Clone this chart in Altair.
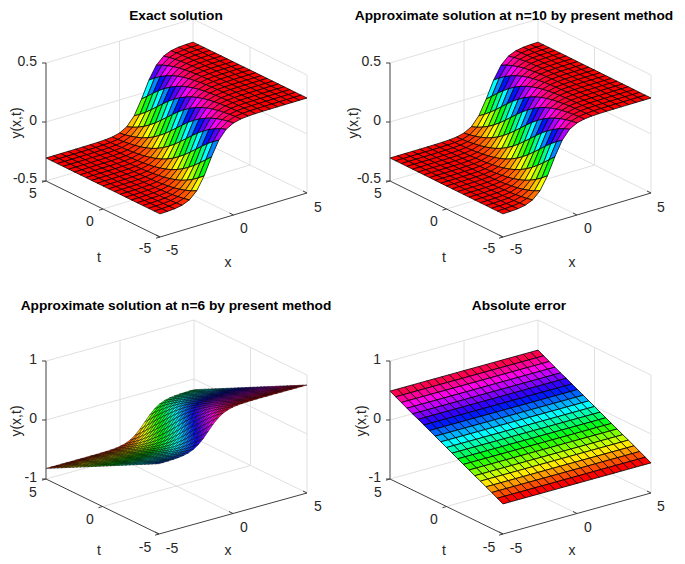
import altair as alt
import pandas as pd

alt.data_transformers.disable_max_rows()

PROFILE_EXACT = [0, .048, .094, .135, .171, .201, .226, .245, .260, .272, .280, .287, .292, .295, .298, .300,
                 .301, .302, .303, .3035, .304, .3042, .3044, .3045, .3046, .3047, .3048, .3048, .3049, .3049,
                 .3049, .305, .305, .305, .305, .305, .305, .305, .305, .305, .305]
PROFILE_N6 = [0, .034, .067, .098, .128, .155, .179, .201, .220, .237, .251, .263, .273, .281, .288, .294,
              .299, .303, .306, .309, .311, .3125, .314, .315, .316, .3167, .3173, .3179, .3183, .3186, .3189,
              .3191, .3193, .3194, .3195, .3196, .3197, .3197, .3198, .3198, .3198, .3199, .3199, .3199, .3199,
              .32, .32, .32, .32, .32, .32, .32, .32, .32, .32, .32, .32, .32, .32, .32, .32]
# Tilt of panel 3 along t, t = -5 ... 5
TILT_N6 = [.51, .477, .443, .409, .376, .342, .308, .275, .241, .207, .173, .140, .106, .072, .038, .005,
           -.029, -.063, -.096, -.130, -.164, -.197, -.231, -.265, -.298, -.332, -.366, -.399, -.433, -.467, -.50]
# Panel 4 values, t = -5 ... 5 (no visible change along x)
ERROR_BY_T = [-.49, -.44, -.39, -.34, -.29, -.245, -.195, -.147, -.098, -.049, 0,
              .049, .098, .147, .195, .245, .29, .34, .39, .44, .49]

TITLES = ["Exact solution", "Approximate solution at n=10 by present method",
          "Approximate solution at n=6 by present method", "Absolute error"]
Z_RANGE = [(-.5, .5, ["-0.5", "0", "0.5"]), (-.5, .5, ["-0.5", "0", "0.5"]),
           (-1, 1, ["-1", "0", "1"]), (-1, 1, ["-1", "0", "1"])]
HSV = ["#ff0000", "#ffff00", "#00ff00", "#00ffff", "#0000ff", "#ff00ff", "#ff0000"]
FONT = "Liberation Sans"
TICK_SIZE = 14
TITLE_SIZE = 13.7


def lookup(profile, k):
    return profile[k] if k >= 0 else -profile[-k]


Z_EXACT = [[lookup(PROFILE_EXACT, -20 + 3 * i - j) for i in range(21)] for j in range(21)]
Z_N6 = [[lookup(PROFILE_N6, -30 + 3 * i - j) + TILT_N6[j] for i in range(31)] for j in range(31)]
Z_ERROR = [[ERROR_BY_T[j]] * 21 for j in range(21)]

PANELS = [
    dict(z=Z_EXACT, clim=(-.305, .305), origin=(8, 8), size=(337, 277), L=(46, 180), F=(160, 236), R=(307, 192),
         sw=.75, title_x=176, title_y=15, ylab=(17, 122),
         zlab_x=37, zlab_y=[178, 120, 61], tlab=[(33, 193), (90, 221), (145, 248)],
         xlab=[(172, 250), (244, 228), (318, 207)], tname=(99, 257), xname=(228, 262)),
    dict(z=Z_EXACT, clim=(-.305, .305), origin=(345, 8), size=(332, 277), L=(390, 180), F=(503, 236), R=(651, 192),
         sw=.75, title_x=514, title_y=15, ylab=(354, 122),
         zlab_x=381, zlab_y=[178, 120, 61], tlab=[(378, 193), (434, 221), (489, 248)],
         xlab=[(516, 249), (588, 228), (661, 207)], tname=(444, 257), xname=(572, 262)),
    dict(z=Z_N6, clim=(-.82, .83), origin=(8, 285), size=(337, 271), L=(46, 478), F=(159, 533), R=(307, 492),
         sw=.45, title_x=176, title_y=305, ylab=(17, 420),
         zlab_x=37, zlab_y=[477, 418, 359], tlab=[(33, 492), (90, 519), (145, 547)],
         xlab=[(172, 548), (244, 527), (318, 506)], tname=(99, 550), xname=(228, 550)),
    dict(z=Z_ERROR, clim=(-.49, .49), origin=(345, 285), size=(332, 271), L=(390, 478), F=(503, 533), R=(651, 492),
         sw=.8, title_x=519, title_y=305, ylab=(362, 420),
         zlab_x=381, zlab_y=[477, 418, 359], tlab=[(378, 492), (434, 519), (489, 547)],
         xlab=[(516, 548), (588, 527), (661, 506)], tname=(444, 550), xname=(572, 550)),
]
Z_HEIGHT = 118


def panel(p, title, zr):
    ox, oy = p["origin"]
    w, h = p["size"]
    L, F, R = p["L"], p["F"], p["R"]
    zmin, zmax, zlabels = zr

    def project(x, t, z):
        u, v = (x + 5) / 10, (t + 5) / 10
        q = (z - zmin) / (zmax - zmin)
        return (F[0] + u * (R[0] - F[0]) + v * (L[0] - F[0]) - ox,
                F[1] + u * (R[1] - F[1]) + v * (L[1] - F[1]) - q * Z_HEIGHT - oy)

    xs_scale = alt.Scale(domain=[0, w], nice=False, zero=False)
    ys_scale = alt.Scale(domain=[h, 0], nice=False, zero=False)
    X = alt.X("px:Q", scale=xs_scale, axis=None)
    Y = alt.Y("py:Q", scale=ys_scale, axis=None)

    # surface cells, farthest first
    Z = p["z"]
    n = len(Z)
    step = 10 / (n - 1)
    rows = []
    cid = 0
    for j in range(n - 2, -1, -1):
        for i in range(n - 2, -1, -1):
            corners = [(i, j), (i + 1, j), (i + 1, j + 1), (i, j + 1), (i, j)]
            for o, (a, b) in enumerate(corners):
                px, py = project(-5 + a * step, -5 + b * step, Z[b][a])
                rows.append(dict(px=px, py=py, cell=cid, o=o, c=Z[j][i]))
            cid += 1
    lo, hi = p["clim"]
    surface = alt.Chart(pd.DataFrame(rows)).mark_line(
        stroke="#000000", strokeWidth=p["sw"], filled=True, strokeJoin="round"
    ).encode(
        x=X, y=Y,
        detail="cell:N",
        order=alt.Order("o:Q"),
        fill=alt.Fill("c:Q", legend=None,
                      scale=alt.Scale(domain=[lo + (hi - lo) * q / 6 for q in range(7)], range=HSV,
                                      interpolate="rgb")),
    )

    # box grid
    zmid = (zmin + zmax) / 2
    segs = [((-5, 5, zmin), (5, 5, zmin)), ((-5, 5, zmid), (5, 5, zmid)), ((-5, 5, zmax), (5, 5, zmax)),
            ((0, 5, zmin), (0, 5, zmax)), ((5, 5, zmin), (5, 5, zmax)),
            ((5, 5, zmin), (5, -5, zmin)), ((5, 5, zmid), (5, -5, zmid)), ((5, 5, zmax), (5, -5, zmax)),
            ((5, 0, zmin), (5, 0, zmax)), ((5, -5, zmin), (5, -5, zmax)),
            ((0, -5, zmin), (0, 5, zmin)), ((-5, 0, zmin), (5, 0, zmin))]
    grows = []
    for k, (a, b) in enumerate(segs):
        for o, pt in enumerate((a, b)):
            px, py = project(*pt)
            grows.append(dict(px=px, py=py, seg=k, o=o))
    grid = alt.Chart(pd.DataFrame(grows)).mark_line(stroke="#dcdcdc", strokeWidth=.9).encode(
        x=X, y=Y, detail="seg:N", order=alt.Order("o:Q"))

    # dark axes and ticks
    arows = []
    k = 0

    def add(a, b):
        nonlocal k
        arows.append(dict(px=a[0], py=a[1], seg=k, o=0))
        arows.append(dict(px=b[0], py=b[1], seg=k, o=1))
        k += 1

    add(project(-5, 5, zmin), project(-5, 5, zmax))
    add(project(-5, 5, zmin), project(-5, -5, zmin))
    add(project(-5, -5, zmin), project(5, -5, zmin))
    for zv in (zmin, zmid, zmax):
        a = project(-5, 5, zv)
        add(a, (a[0] - 4, a[1]))
    for tv in (5, 0, -5):
        a = project(-5, tv, zmin)
        add(a, (a[0] - 4, a[1] + 1.2))
    for xv in (-5, 0, 5):
        a = project(xv, -5, zmin)
        add(a, (a[0] - 4, a[1] - 2))
    axes = alt.Chart(pd.DataFrame(arows)).mark_line(stroke="#404040", strokeWidth=1).encode(
        x=X, y=Y, detail="seg:N", order=alt.Order("o:Q"))

    # tick labels
    trows = [dict(px=p["zlab_x"] - ox, py=yy - oy, s=s) for yy, s in zip(p["zlab_y"], zlabels)]
    zt = alt.Chart(pd.DataFrame(trows)).mark_text(
        font=FONT, fontSize=TICK_SIZE, align="right", baseline="middle", color="#262626"
    ).encode(x=X, y=Y, text="s:N")
    crows = [dict(px=a - ox, py=b - oy, s=s) for (a, b), s in zip(p["tlab"], ["5", "0", "-5"])]
    crows += [dict(px=a - ox, py=b - oy, s=s) for (a, b), s in zip(p["xlab"], ["-5", "0", "5"])]
    crows += [dict(px=p["tname"][0] - ox, py=p["tname"][1] - oy, s="t"),
              dict(px=p["xname"][0] - ox, py=p["xname"][1] - oy, s="x")]
    ct = alt.Chart(pd.DataFrame(crows)).mark_text(
        font=FONT, fontSize=TICK_SIZE, align="center", baseline="middle", color="#262626"
    ).encode(x=X, y=Y, text="s:N")
    yl = alt.Chart(pd.DataFrame([dict(px=p["ylab"][0] - ox, py=p["ylab"][1] - oy, s="y(x,t)")])).mark_text(
        font=FONT, fontSize=TICK_SIZE, align="center", baseline="middle", angle=270, color="#262626"
    ).encode(x=X, y=Y, text="s:N")
    tl = alt.Chart(pd.DataFrame([dict(px=p["title_x"] - ox, py=p["title_y"] - oy, s=title)])).mark_text(
        font=FONT, fontSize=TITLE_SIZE, fontWeight="bold", align="center", baseline="middle", color="#000000"
    ).encode(x=X, y=Y, text="s:N")

    return alt.layer(grid, surface, axes, zt, ct, yl, tl).properties(width=w, height=h)


charts = [panel(p, t, z) for p, t, z in zip(PANELS, TITLES, Z_RANGE)]
chart = alt.concat(*charts, columns=2, spacing=0, bounds="flush").resolve_scale(
    fill="independent"
).properties(padding=0, background="white").configure_view(stroke=None)

chart.save("out.html", embed_options={"renderer": "svg", "actions": False})
